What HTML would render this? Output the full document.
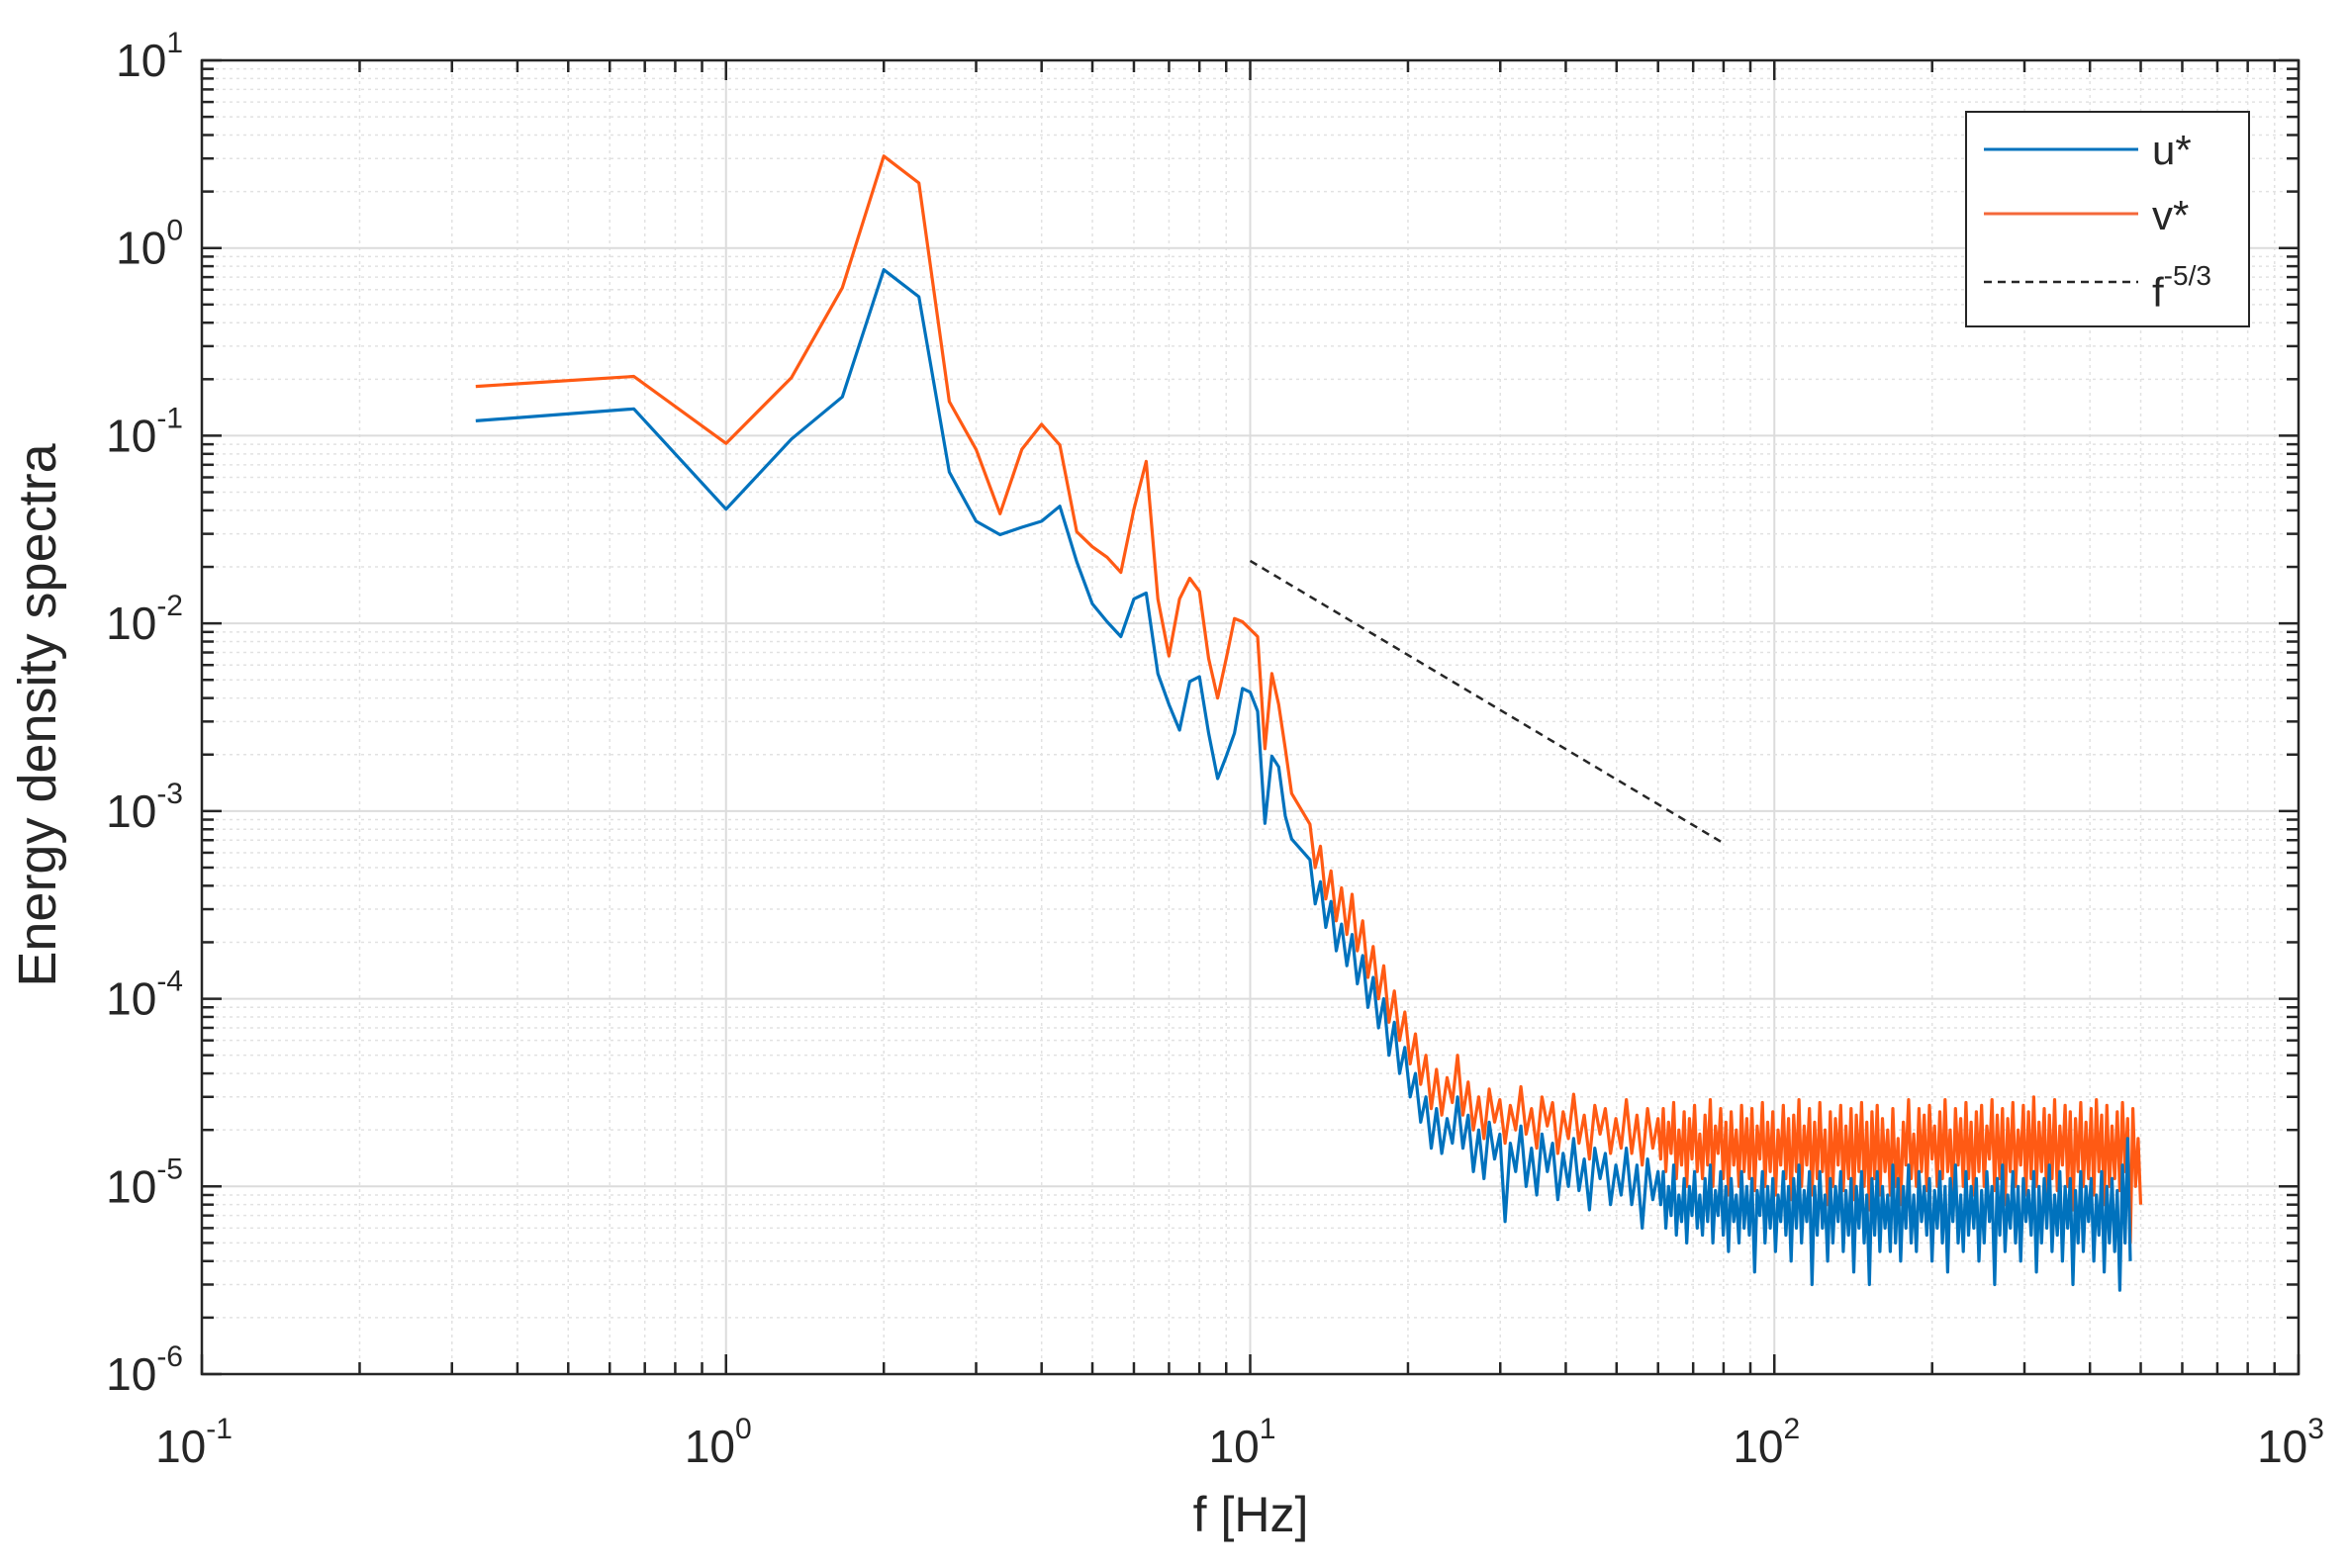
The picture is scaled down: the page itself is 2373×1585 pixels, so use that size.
<!DOCTYPE html>
<html><head><meta charset="utf-8"><style>
html,body{margin:0;padding:0;background:#fff;}
svg{display:block;font-family:"Liberation Sans",Arial,sans-serif;}
</style></head><body>
<svg id="chart" width="2373" height="1585" viewBox="0 0 2373 1585" xmlns="http://www.w3.org/2000/svg">
<rect width="2373" height="1585" fill="#fff"/>
<g id="grid"></g>
<g id="series"></g>
<g id="axes"></g>
<text x="1264" y="1548" font-size="50" text-anchor="middle" fill="#262626">f [Hz]</text>
<text transform="translate(56,723) rotate(-90)" font-size="54" text-anchor="middle" fill="#262626">Energy density spectra</text>
<g>
<rect x="1987" y="113" width="286" height="217" fill="#fff" stroke="#262626" stroke-width="2"/>
<line x1="2005" y1="151" x2="2161" y2="151" stroke="#0072BD" stroke-width="3"/>
<text x="2175" y="166" font-size="42" fill="#262626">u*</text>
<line x1="2005" y1="216" x2="2161" y2="216" stroke="#F4683A" stroke-width="3"/>
<text x="2175" y="232" font-size="42" fill="#262626">v*</text>
<line x1="2005" y1="285" x2="2161" y2="285" stroke="#262626" stroke-width="2.5" stroke-dasharray="8,6"/>
<text x="2175" y="310" font-size="42" fill="#262626">f<tspan font-size="28" dy="-22">-5/3</tspan></text>
</g>
</svg>
<script>
const fLow=[0.333,0.667,1,1.333,1.667,2,2.333,2.667,3,3.333,3.667,4,4.333,4.667,5,5.333,5.667,6,6.333,6.667,7,7.333,7.667,8,8.333,8.667,9,9.333,9.667,10,10.333,10.667,11,11.333,11.667,12];
const uLow=[0.120,0.139,0.0406,0.096,0.161,0.766,0.550,0.0641,0.0350,0.0297,0.0325,0.0350,0.0421,0.0213,0.0127,0.0102,0.0085,0.0135,0.0145,0.0054,0.0037,0.0027,0.0049,0.0052,0.0026,0.00149,0.00196,0.0026,0.0045,0.0043,0.0034,0.00086,0.00196,0.00172,0.00094,0.00071];
const vLow=[0.183,0.207,0.091,0.204,0.614,3.09,2.22,0.152,0.0845,0.0384,0.0845,0.115,0.0893,0.0308,0.0256,0.0225,0.0187,0.0406,0.073,0.0135,0.0067,0.0135,0.0174,0.0148,0.0065,0.0040,0.0065,0.0106,0.0102,0.0093,0.0085,0.00215,0.0054,0.0037,0.00215,0.00124];
const fMidStart=13, fMidEnd=60, fHiEnd=500;
const vMid=[8.5e-4,5.0e-4,6.5e-4,3.4e-4,4.8e-4,2.6e-4,3.9e-4,2.2e-4,3.6e-4,1.8e-4,2.6e-4,1.3e-4,1.9e-4,1.0e-4,1.5e-4,7.5e-5,1.1e-4,6.0e-5,8.5e-5,4.5e-5,6.5e-5,3.5e-5,5.0e-5,2.6e-5,4.2e-5,2.4e-5,3.8e-5,2.8e-5,5.0e-5,
2.4e-5,3.6e-5,2.0e-5,3.0e-5,1.8e-5,3.3e-5,2.2e-5,2.9e-5,1.7e-5,2.7e-5,2.0e-5,3.4e-5,1.9e-5,2.6e-5,1.6e-5,3.0e-5,2.1e-5,2.8e-5,1.5e-5,2.5e-5,1.8e-5,3.1e-5,1.7e-5,2.4e-5,1.4e-5,2.7e-5,1.9e-5,2.6e-5,1.5e-5,2.3e-5,1.6e-5,2.9e-5,1.5e-5,2.4e-5,1.3e-5,2.6e-5,1.6e-5,2.3e-5];
const uMid=[5.5e-4,3.2e-4,4.2e-4,2.4e-4,3.3e-4,1.8e-4,2.5e-4,1.5e-4,2.2e-4,1.2e-4,1.7e-4,9.0e-5,1.3e-4,7.0e-5,1.0e-4,5.0e-5,7.5e-5,4.0e-5,5.5e-5,3.0e-5,4.0e-5,2.2e-5,3.0e-5,1.6e-5,2.6e-5,1.5e-5,2.3e-5,1.7e-5,3.0e-5,
1.6e-5,2.4e-5,1.2e-5,2.0e-5,1.1e-5,2.2e-5,1.4e-5,1.9e-5,6.5e-6,1.7e-5,1.2e-5,2.1e-5,1.0e-5,1.6e-5,9.0e-6,1.9e-5,1.2e-5,1.7e-5,8.5e-6,1.5e-5,1.0e-5,1.8e-5,9.5e-6,1.4e-5,7.5e-6,1.6e-5,1.1e-5,1.5e-5,8.0e-6,1.3e-5,9.0e-6,1.6e-5,8.0e-6,1.3e-5,6.0e-6,1.4e-5,8.5e-6,1.2e-5];
const vHi=[1.4e-5,2.6e-5,1.2e-5,2.2e-5,1.5e-5,2.8e-5,1.1e-5,2.0e-5,1.3e-5,2.5e-5,1.0e-5,2.3e-5,1.4e-5,2.7e-5,1.2e-5,1.9e-5,1.1e-5,2.4e-5,1.3e-5,2.9e-5,1.0e-5,2.1e-5,1.5e-5,2.6e-5,1.1e-5,2.2e-5,9.0e-6,2.5e-5,1.3e-5,2.0e-5,1.0e-5,2.7e-5,1.2e-5,2.3e-5,1.1e-5,2.6e-5,9.5e-6,2.1e-5,1.4e-5,2.8e-5,1.0e-5,2.2e-5,1.2e-5,2.5e-5,9.0e-6,2.0e-5,1.3e-5,2.7e-5,1.1e-5,2.3e-5,8.5e-6,2.4e-5,1.2e-5,2.9e-5,1.0e-5,2.1e-5,1.3e-5,2.6e-5,9.0e-6,2.2e-5,1.1e-5,2.8e-5,1.2e-5,2.0e-5,8.0e-6,2.5e-5,1.0e-5,2.3e-5,1.3e-5,2.7e-5,9.5e-6,2.1e-5,1.1e-5,2.6e-5,8.5e-6,2.4e-5,1.2e-5,2.8e-5,1.0e-5,2.2e-5,7.5e-6,2.5e-5,1.1e-5,2.7e-5,9.0e-6,2.3e-5,1.2e-5,2.0e-5,9.0e-6,2.6e-5,1.0e-5,1.8e-5,8.0e-6,
2.2e-5,1.3e-5,2.9e-5,1.1e-5,1.9e-5,1.0e-5,2.6e-5,1.2e-5,2.4e-5,9.5e-6,2.7e-5,1.4e-5,2.1e-5,1.0e-5,2.5e-5,1.1e-5,2.9e-5,1.2e-5,2.0e-5,8.5e-6,2.6e-5,1.3e-5,2.3e-5,1.0e-5,2.8e-5,1.1e-5,2.2e-5,9.0e-6,2.5e-5,1.2e-5,2.7e-5,1.0e-5,2.1e-5,1.4e-5,2.9e-5,9.5e-6,2.4e-5,1.1e-5,2.6e-5,8.0e-6,2.3e-5,1.2e-5,2.8e-5,1.0e-5,2.0e-5,1.3e-5,2.7e-5,9.0e-6,2.5e-5,1.1e-5,3.0e-5,1.0e-5,2.2e-5,1.2e-5,2.6e-5,8.5e-6,2.4e-5,1.1e-5,2.9e-5,9.5e-6,2.1e-5,1.3e-5,2.7e-5,1.0e-5,2.5e-5,7.5e-6,2.3e-5,1.2e-5,2.8e-5,1.0e-5,2.2e-5,1.1e-5,2.6e-5,9.0e-6,2.9e-5,1.2e-5,2.4e-5,8.0e-6,2.7e-5,1.0e-5,2.1e-5,1.1e-5,2.5e-5,9.5e-6,2.8e-5,1.2e-5,2.3e-5,5.0e-6,2.6e-5,1.0e-5,1.8e-5,8.0e-6];
const uHi=[8e-6,1.2e-5,6e-6,1.0e-5,7e-6,1.3e-5,5.5e-6,9e-6,6.5e-6,1.1e-5,5e-6,1.0e-5,7e-6,1.2e-5,6e-6,9e-6,5.5e-6,1.1e-5,6.5e-6,1.3e-5,5e-6,9.5e-6,7e-6,1.2e-5,5.5e-6,1.0e-5,4.5e-6,1.1e-5,6.5e-6,9e-6,5e-6,1.2e-5,6e-6,1.0e-5,5.5e-6,1.1e-5,3.5e-6,9.5e-6,7e-6,1.2e-5,5e-6,1.0e-5,6e-6,1.1e-5,4.5e-6,9e-6,6.5e-6,1.2e-5,5.5e-6,1.0e-5,4e-6,1.1e-5,6e-6,1.3e-5,5e-6,9.5e-6,6.5e-6,1.2e-5,3e-6,1.0e-5,5.5e-6,1.2e-5,6e-6,9e-6,4e-6,1.1e-5,5e-6,1.0e-5,6.5e-6,1.2e-5,4.5e-6,9.5e-6,5.5e-6,1.1e-5,3.5e-6,1.0e-5,6e-6,1.2e-5,5e-6,9e-6,3e-6,1.1e-5,5.5e-6,1.2e-5,4.5e-6,1.0e-5,6e-6,9e-6,4.5e-6,1.3e-5,5e-6,1.1e-5,4e-6,
1.0e-5,6e-6,1.3e-5,5e-6,9e-6,4.5e-6,1.2e-5,6.5e-6,1.0e-5,5.5e-6,1.1e-5,4e-6,9.5e-6,6e-6,1.2e-5,5e-6,1.0e-5,3.5e-6,1.1e-5,6.5e-6,1.3e-5,5e-6,9e-6,4.5e-6,1.2e-5,5.5e-6,1.0e-5,6e-6,1.1e-5,4e-6,9.5e-6,5e-6,1.2e-5,6.5e-6,1.0e-5,3e-6,1.1e-5,5.5e-6,1.3e-5,4.5e-6,9e-6,6e-6,1.2e-5,5e-6,1.0e-5,4e-6,1.1e-5,6.5e-6,9.5e-6,5.5e-6,1.2e-5,3.5e-6,1.0e-5,5e-6,1.1e-5,6e-6,1.3e-5,4.5e-6,9e-6,5.5e-6,1.2e-5,4e-6,1.0e-5,6e-6,1.1e-5,3e-6,9.5e-6,5e-6,1.2e-5,4.5e-6,1.0e-5,6.5e-6,1.1e-5,4e-6,9e-6,5.5e-6,1.2e-5,3.5e-6,1.0e-5,5e-6,1.1e-5,4.5e-6,9.5e-6,2.8e-6,1.3e-5,5e-6,1.8e-5,4e-6];
const slopeF=[10,79];
const slopeExp=-5/3;
const xTickExp=[-1,0,1,2,3];
const yTickExp=[-6,-5,-4,-3,-2,-1,0,1];

const L=204,R=2323,T=61,B=1389;
const xMin=-1,xMax=3,yMin=-6,yMax=1;
const NS="http://www.w3.org/2000/svg";
function X(f){return L+(Math.log10(f)-xMin)/(xMax-xMin)*(R-L);}
function Y(v){return B-(Math.log10(v)-yMin)/(yMax-yMin)*(B-T);}
function mk(tag,attrs,parent){const e=document.createElementNS(NS,tag);for(const k in attrs)e.setAttribute(k,attrs[k]);parent.appendChild(e);return e;}
const grid=document.getElementById('grid'),axes=document.getElementById('axes'),series=document.getElementById('series');

for(let e=xMin;e<xMax;e++){for(let m=1;m<10;m++){const x=X(m*Math.pow(10,e));
 const ln=mk('line',{x1:x,y1:T,x2:x,y2:B,stroke:m===1?'#dcdcdc':'#e2e2e2','stroke-width':m===1?2:1.5,'stroke-dasharray':m===1?'none':'3,4'},grid);
 }}
for(let e=yMin;e<yMax;e++){for(let m=1;m<10;m++){const y=Y(m*Math.pow(10,e));
 const ln=mk('line',{x1:L,y1:y,x2:R,y2:y,stroke:m===1?'#dcdcdc':'#e2e2e2','stroke-width':m===1?2:1.5,'stroke-dasharray':m===1?'none':'3,4'},grid);
 }}

function logSpace(a,b,n,skipFirst){const out=[];for(let i=0;i<n;i++){const k=skipFirst?i+1:i;const d=skipFirst?n:n-1;out.push(Math.pow(10,Math.log10(a)+k*(Math.log10(b)-Math.log10(a))/d));}return out;}
const fMid=logSpace(fMidStart,fMidEnd,vMid.length,false);
const fHi=logSpace(fMidEnd,fHiEnd,vHi.length,true);
const fAll=fLow.concat(fMid,fHi),uAll=uLow.concat(uMid,uHi),vAll=vLow.concat(vMid,vHi);
function pathOf(fs,vs){return fs.map((f,i)=>(i?'L':'M')+X(f).toFixed(1)+','+Y(vs[i]).toFixed(1)).join('');}
const pv=mk('path',{d:pathOf(fAll,vAll),fill:'none',stroke:'#FF5A14','stroke-width':3.2,'stroke-linejoin':'round'},series);

const pu=mk('path',{d:pathOf(fAll,uAll),fill:'none',stroke:'#0072BD','stroke-width':3.2,'stroke-linejoin':'round'},series);

const ps=mk('line',{x1:X(slopeF[0]),y1:Y(Math.pow(slopeF[0],slopeExp)),x2:X(slopeF[1]),y2:Y(Math.pow(slopeF[1],slopeExp)),stroke:'#262626','stroke-width':2.5,'stroke-dasharray':'8,6'},series);


const box=mk('rect',{x:L,y:T,width:R-L,height:B-T,fill:'none',stroke:'#262626','stroke-width':2.5},axes);

for(let e=xMin;e<xMax+1;e++){for(let m=1;m<10;m++){if(e===xMax&&m>1)break;const x=X(m*Math.pow(10,e));const len=m===1?20:12;
 const t1=mk('line',{x1:x,y1:B,x2:x,y2:B-len,stroke:'#262626','stroke-width':2.5},axes);
 const t2=mk('line',{x1:x,y1:T,x2:x,y2:T+len,stroke:'#262626','stroke-width':2.5},axes);}}
for(let e=yMin;e<yMax+1;e++){for(let m=1;m<10;m++){if(e===yMax&&m>1)break;const y=Y(m*Math.pow(10,e));const len=m===1?20:12;
 const t1=mk('line',{x1:L,y1:y,x2:L+len,y2:y,stroke:'#262626','stroke-width':2.5},axes);
 const t2=mk('line',{x1:R,y1:y,x2:R-len,y2:y,stroke:'#262626','stroke-width':2.5},axes);}}
xTickExp.forEach(e=>{const x=X(Math.pow(10,e));
 const t=mk('text',{x:x-8,y:1478,'font-size':46,'text-anchor':'middle',fill:'#262626'},axes);
 
 t.appendChild(document.createTextNode('10'));const s=mk('tspan',{'font-size':30,dy:-24},t);s.textContent=String(e);});
yTickExp.forEach(e=>{const y=Y(Math.pow(10,e));
 const t=mk('text',{x:185,y:y+16,'font-size':46,'text-anchor':'end',fill:'#262626'},axes);
 
 t.appendChild(document.createTextNode('10'));const s=mk('tspan',{'font-size':30,dy:-24},t);s.textContent=String(e);});
</script>
</body></html>
